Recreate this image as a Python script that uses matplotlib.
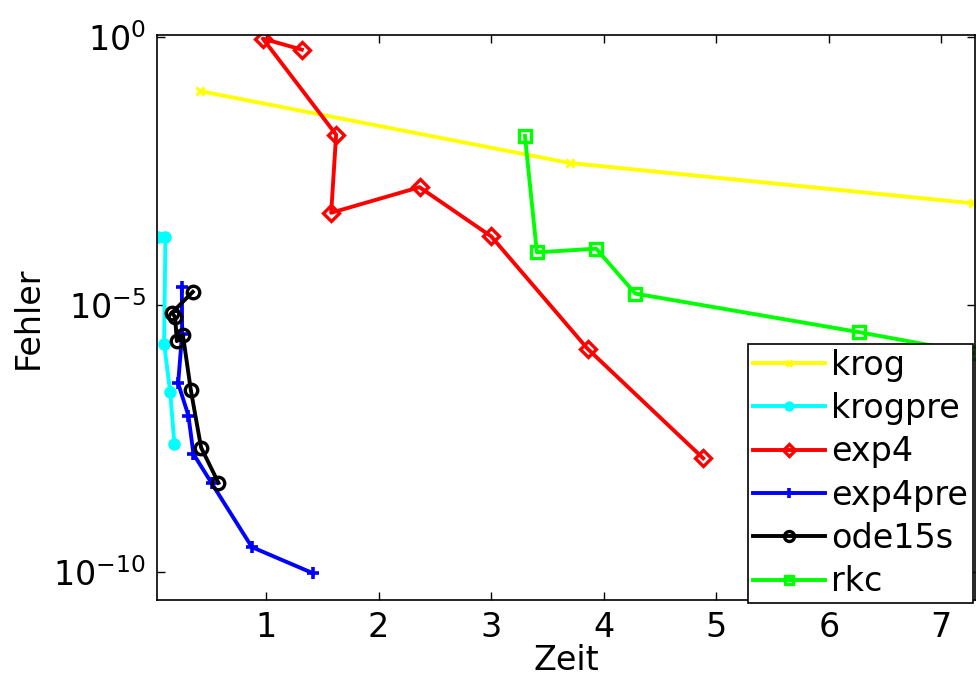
import matplotlib
matplotlib.use("Agg")
import matplotlib.pyplot as plt

## values (Zeit vs. Fehler, log y)
krog_x = [0.41, 3.70, 7.28]
krog_y = [9.9e-2, 4.47e-3, 7.9e-4]

krogpre_x = [0.035, 0.105, 0.093, 0.147, 0.185]
krogpre_y = [1.86e-4, 1.86e-4, 1.86e-6, 2.34e-7, 2.45e-8]

exp4_x = [1.317, 0.971, 1.622, 1.578, 2.363, 3.0, 3.856, 4.884]
exp4_y = [0.589, 0.946, 1.51e-2, 5.25e-4, 1.58e-3, 1.9e-4, 1.51e-6, 1.35e-8]

exp4pre_x = [0.251, 0.253, 0.218, 0.309, 0.354, 0.517, 0.873, 1.42]
exp4pre_y = [2.14e-5, 2.82e-6, 3.39e-7, 8.5e-8, 1.62e-8, 4.57e-9, 2.95e-10, 9.5e-11]

ode15s_x = [0.348, 0.162, 0.191, 0.206, 0.260, 0.331, 0.422, 0.576]
ode15s_y = [1.74e-5, 7.08e-6, 5.89e-6, 2.09e-6, 2.75e-6, 2.51e-7, 2.14e-8, 4.68e-9]

rkc_x = [3.30, 3.406, 3.933, 4.28, 6.265, 7.30]
rkc_y = [1.43e-2, 9.55e-5, 1.12e-4, 1.62e-5, 3.09e-6, 1.23e-6]

x_ticks = [1, 2, 3, 4, 5, 6, 7]
y_ticks = [1e-10, 1e-5, 1e0]

plt.rcParams['font.family'] = ['DejaVu Sans']

fig = plt.figure(figsize=(9.77, 6.77), dpi=100)
ax = fig.add_axes([0.1607, 0.1137, 0.998 - 0.1607, 0.948 - 0.1137])

lw = 2.8
ax.plot(krog_x, krog_y, color='#ffff00', lw=lw, marker='x', ms=6, mew=2.2, label='krog')
ax.plot(krogpre_x, krogpre_y, color='#00ffff', lw=lw, marker='o', ms=8, mew=1, label='krogpre')
ax.plot(exp4_x, exp4_y, color='#ff0000', lw=lw, marker='D', ms=8, mew=2.4, mfc='none', label='exp4')
ax.plot(exp4pre_x, exp4pre_y, color='#0000ff', lw=lw, marker='+', ms=9, mew=2.6, label='exp4pre')
ax.plot(ode15s_x, ode15s_y, color='black', lw=lw, marker='o', ms=9, mew=2.4, mfc='none', label='ode15s')
ax.plot(rkc_x, rkc_y, color='#00ff00', lw=lw, marker='s', ms=8, mew=2.4, mfc='none', label='rkc')

ax.set_yscale('log')
ax.set_xlim(0.03, 7.30)
ax.set_ylim(10 ** -10.52, 10 ** 0.04)
ax.set_xticks(x_ticks)
ax.set_xticklabels([str(t) for t in x_ticks])
ax.set_yticks(y_ticks)
ax.yaxis.set_minor_locator(matplotlib.ticker.NullLocator())
ax.tick_params(axis='both', which='both', direction='in', top=True, right=True,
               length=6, width=1, labelsize=24, pad=8)
for s in ax.spines.values():
  s.set_linewidth(1.2)

ax.set_xlabel('Zeit', fontsize=24, labelpad=0)
ax.set_ylabel('Fehler', fontsize=24, labelpad=6)

leg = ax.legend(loc='lower right', bbox_to_anchor=(0.996, 0.109), bbox_transform=fig.transFigure,
                borderaxespad=0, fontsize=24, fancybox=False, framealpha=1,
                edgecolor='black', handlelength=2.15, handletextpad=0.2, labelspacing=0.31,
                borderpad=0.15, markerscale=0.8)
leg.get_frame().set_linewidth(1.2)

fig.savefig('out.png', dpi=100)
